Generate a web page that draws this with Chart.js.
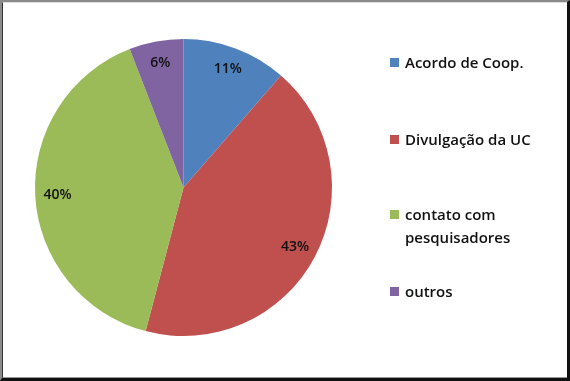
<!DOCTYPE html>
<html>
<head>
<meta charset="utf-8">
<script src="https://cdn.jsdelivr.net/npm/chart.js@4/dist/chart.umd.min.js"></script>
<style>
  html, body { margin: 0; padding: 0; background: #fff; }
  #wrap { position: relative; width: 570px; height: 381px; overflow: hidden; background: #fff; }
  #c { position: absolute; left: 0; top: 0; }
  #frame { position: absolute; left: 0; top: 0; width: 570px; height: 381px; box-sizing: border-box;
    border-top: 2px solid #8a8a8a; border-left: 2px solid #8a8a8a; border-right: 3px solid #111; border-bottom: 3px solid #111; pointer-events: none; }
  #frame2 { position: absolute; left: 2px; top: 2px; width: 565px; height: 376px; box-sizing: border-box;
    border-left: 1px solid #333; border-top: 1px solid #ddd; border-bottom: 1px solid #999; pointer-events: none; }
  #legend { position: absolute; left: 0; top: 0; width: 570px; height: 381px; pointer-events: none;
    font-family: "Open Sans", sans-serif; font-size: 15px; font-weight: 600; color: #111; }
  .item { position: absolute; left: 390px; line-height: 23px; }
  .box { position: absolute; left: 0; top: 7px; width: 9px; height: 9px; }
  .txt { position: absolute; left: 15px; top: 0; white-space: nowrap; }
</style>
</head>
<body>
<div id="wrap">
  <canvas id="c" width="570" height="381"></canvas>
  <div id="legend"></div>
  <div id="frame"></div>
  <div id="frame2"></div>
</div>
<script>
const categories = ['Acordo de Coop.', 'Divulgação da UC', ['contato com', 'pesquisadores'], 'outros'];
const values = [11.4, 42.7, 40.0, 5.9];
const colors = ['#4F81BD', '#C0504D', '#9BBB59', '#8064A2'];
const legendTops = [51, 128, 203, 280];

const pctLabels = {
  id: 'pctLabels',
  afterDatasetsDraw(chart) {
    const ctx = chart.ctx;
    const meta = chart.getDatasetMeta(0);
    const total = values.reduce((a, b) => a + b, 0);
    ctx.save();
    ctx.font = '600 14px "Open Sans", sans-serif';
    ctx.fillStyle = '#111';
    ctx.textAlign = 'center';
    ctx.textBaseline = 'middle';
    meta.data.forEach((arc, i) => {
      const p = arc.getProps(['x', 'y', 'startAngle', 'endAngle', 'outerRadius'], true);
      const mid = (p.startAngle + p.endAngle) / 2;
      const r = p.outerRadius * 0.85;
      const x = p.x + Math.cos(mid) * r;
      const y = p.y + Math.sin(mid) * r;
      ctx.fillText(Math.round(values[i] / total * 100) + '%', x, y);
    });
    ctx.restore();
  }
};

new Chart(document.getElementById('c'), {
  type: 'pie',
  data: {
    labels: categories,
    datasets: [{ data: values, backgroundColor: colors, borderWidth: 0 }]
  },
  options: {
    responsive: false,
    animation: false,
    layout: { padding: { left: 35, right: 238, top: 39, bottom: 45 } },
    plugins: { legend: { display: false }, tooltip: { enabled: false } }
  },
  plugins: [pctLabels]
});

const legendEl = document.getElementById('legend');
categories.forEach((cat, i) => {
  const item = document.createElement('div');
  item.className = 'item';
  item.style.top = legendTops[i] + 'px';
  const box = document.createElement('div');
  box.className = 'box';
  box.style.background = colors[i];
  const txt = document.createElement('div');
  txt.className = 'txt';
  (Array.isArray(cat) ? cat : [cat]).forEach((line, j) => {
    if (j) txt.appendChild(document.createElement('br'));
    txt.appendChild(document.createTextNode(line));
  });
  item.appendChild(box);
  item.appendChild(txt);
  legendEl.appendChild(item);
});
</script>
</body>
</html>
